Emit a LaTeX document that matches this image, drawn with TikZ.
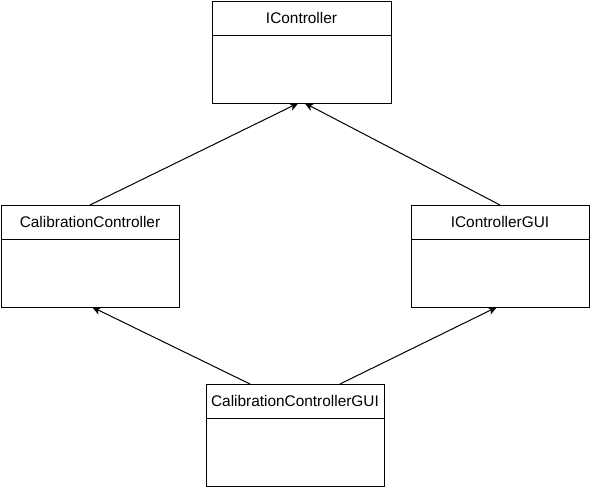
\documentclass[tikz,border=0pt]{standalone}
\usepackage{fontspec}
\setmainfont{Liberation Sans}
\usetikzlibrary{arrows.meta}

\begin{document}
\begin{tikzpicture}[x=1pt,y=-1pt]
\tikzset{
  hdr/.style={draw,line width=1pt,minimum width=#1,minimum height=34pt,
    anchor=north,inner sep=0pt,outer sep=0pt,font=\fontsize{15.4}{17}\selectfont},
  bdy/.style={draw,line width=1pt,minimum width=#1,minimum height=68pt,
    anchor=north,inner sep=0pt,outer sep=0pt},
  inh/.style={line width=1pt,-{Stealth[length=9pt,width=8pt,inset=2.5pt]}}
}
\useasboundingbox (0,0) rectangle (590,488);
% class boxes
\node[hdr=179pt] (ictrlh) at (301.5,1) {IController};
\node[bdy=179pt] (ictrlb) at (ictrlh.south) {};
\node[hdr=178pt] (calh) at (90,205) {CalibrationController};
\node[bdy=178pt] (calb) at (calh.south) {};
\node[hdr=178pt] (guih) at (500,205) {IControllerGUI};
\node[bdy=178pt] (guib) at (guih.south) {};
\node[hdr=178pt] (calguih) at (295,384) {CalibrationControllerGUI};
\node[bdy=178pt] (calguib) at (calguih.south) {};
% inheritance
\draw[inh] (calh.north) -- ([xshift=-3pt]ictrlb.south);
\draw[inh] (guih.north) -- ([xshift=3pt]ictrlb.south);
\draw[inh] ([xshift=-45pt]calguih.north) -- ([xshift=2pt]calb.south);
\draw[inh] ([xshift=45pt]calguih.north) -- ([xshift=-3pt]guib.south);
\end{tikzpicture}
\end{document}
